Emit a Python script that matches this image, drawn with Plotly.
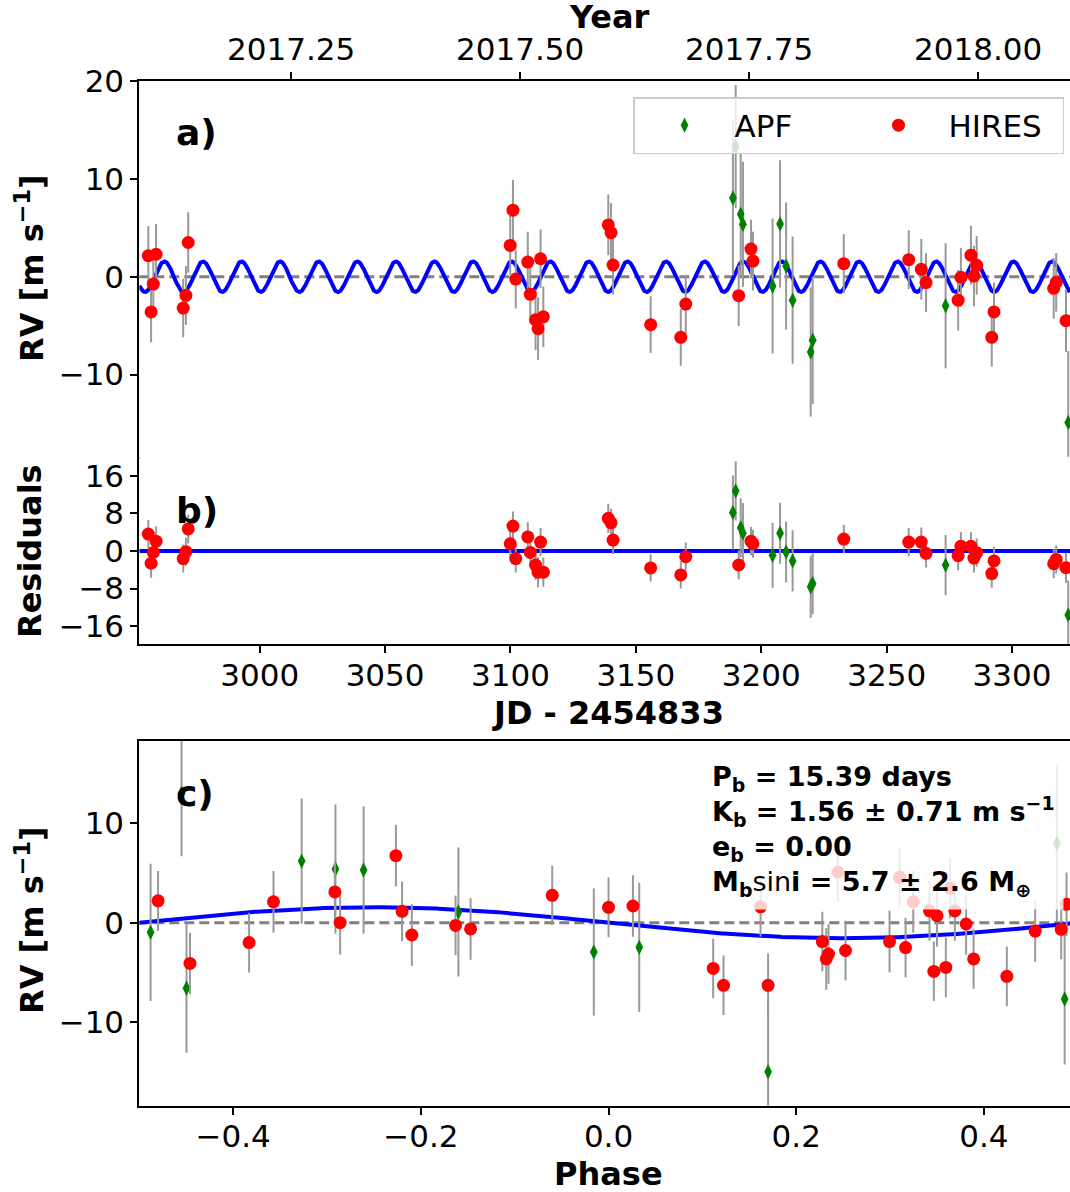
import numpy as np
import plotly.graph_objects as go

# ---------------- HIRES: time series (JD - 2454833), RV and residuals in m/s ----------------
hires_t = [2955.6, 2956.7, 2957.6, 2958.7, 2969.5, 2970.6, 2971.5,
           3099.9, 3101.0, 3102.1, 3106.9, 3107.9, 3110.0, 3111.0, 3112.0, 3113.1,
           3139.0, 3140.1, 3140.9, 3155.9, 3167.9, 3169.9,
           3191.0, 3195.9, 3196.7, 3232.9, 3258.8, 3263.8, 3265.7,
           3278.5, 3279.6, 3283.6, 3284.8, 3285.9, 3291.9, 3292.8,
           3316.6, 3317.6, 3321.5]
hires_rv = [2.15, -3.6, -0.75, 2.3, -3.2, -1.9, 3.5,
            3.2, 6.8, -0.24, 1.5, -1.8, -4.4, -5.3, 1.84, -4.1,
            5.3, 4.5, 1.2, -4.9, -6.2, -2.8,
            -1.94, 2.83, 1.6, 1.33, 1.74, 0.76, -0.6,
            -2.4, -0.06, 2.2, 0.07, 1.17, -6.2, -3.6,
            -1.19, -0.57, -4.5]
hires_err = [3.0, 3.1, 3.0, 3.1, 3.0, 3.0, 3.1,
             3.0, 3.1, 3.0, 3.1, 3.0, 3.1, 3.2, 3.0, 3.1,
             3.1, 3.0, 3.0, 2.9, 2.9, 3.0,
             3.1, 3.0, 3.0, 3.0, 3.0, 3.1, 3.0,
             3.1, 3.0, 3.0, 3.1, 3.0, 3.0, 3.0,
             3.1, 3.0, 3.2]
hires_resid = [3.6, -2.6, -0.3, 2.1, -1.6, -0.15, 4.7,
               1.55, 5.3, -1.6, 3.0, -0.3, -3.0, -4.5, 1.9, -4.5,
               6.96, 6.0, 2.34, -3.6, -5.1, -1.2,
               -2.98, 2.1, 1.55, 2.55, 1.9, 1.9, -0.5,
               -1.0, 1.0, 1.0, -1.5, -0.35, -4.8, -2.1,
               -2.7, -1.8, -3.55]

# ---------------- APF: time series ----------------
apf_t = [3188.7, 3189.8, 3191.8, 3192.7, 3204.5, 3207.5,
         3209.9, 3212.5, 3219.7, 3220.5, 3273.5, 3322.4]
apf_rv = [8.05, 13.3, 6.4, 5.36, -0.95, 5.4,
          1.1, -2.4, -7.7, -6.5, -2.97, -14.9]
apf_err = [7.9, 6.3, 6.3, 6.4, 6.9, 6.5,
           6.5, 6.5, 6.6, 6.5, 6.4, 7.3]
apf_resid = [8.2, 12.8, 4.96, 3.8, -0.9, 3.8,
             -0.2, -2.1, -7.6, -6.96, -3.0, -13.6]

# ---------------- Phase-folded RVs ----------------
hires_phase = [-0.480, -0.446, -0.383, -0.357, -0.2916, -0.286, -0.2266, -0.220,
               -0.2096, -0.163, -0.147, -0.060,
               0.000, 0.026, 0.1115, 0.1225, 0.162, 0.170, 0.2278, 0.232, 0.2344,
               0.2443, 0.2525, 0.2994, 0.310, 0.3165, 0.3247, 0.342, 0.3466, 0.350,
               0.3594, 0.364, 0.369, 0.381, 0.389, 0.4244, 0.4546, 0.4823, 0.488]
hires_rv_phase = [2.2, -4.1, -2.0, 2.1, 3.1, 0.0, 6.75, 1.15,
                  -1.24, -0.27, -0.63, 2.76,
                  1.55, 1.68, -4.6, -6.3, 1.6, -6.3, -1.9, -3.65, -3.15,
                  5.1, -2.8, -1.9, 4.57, -2.5, 2.1, 1.2, -4.9, 0.7,
                  -4.5, 3.46, 1.18, -0.13, -3.65, -5.4, -0.84, -0.67, 1.85]
hires_err_phase = [3.0, 3.1, 3.0, 3.1, 3.0, 3.2, 3.1, 3.0,
                   3.1, 3.0, 3.1, 3.0,
                   3.0, 3.1, 3.0, 3.0, 3.0, 3.2, 3.0, 3.1, 3.0,
                   3.0, 3.0, 3.1, 3.0, 3.0, 3.1, 3.0, 3.0, 3.1,
                   3.0, 3.0, 3.0, 3.1, 3.0, 3.0, 3.1, 3.0, 3.2]
apf_phase = [-0.488, -0.455, -0.4497, -0.327, -0.291, -0.261,
             -0.160, -0.0157, 0.0327, 0.170, 0.4777, 0.486]
apf_rv_phase = [-0.97, 13.0, -6.6, 6.2, 5.4, 5.3,
                1.08, -2.95, -2.48, -15.0, 8.0, -7.68]
apf_err_phase = [6.9, 6.3, 6.5, 6.3, 6.5, 6.4,
                 6.5, 6.4, 6.5, 7.3, 7.9, 6.6]

# ---------------- Keplerian fit parameters ----------------
P_b = 15.39
K_b = 1.56
K_b_err = 0.71
e_b = 0.00
msini_b = 5.7
msini_b_err = 2.6
tc_b = 3319.78
JD_OFFSET = 2454833.0

# ---------------- figure geometry (pixels) ----------------
W, H = 1070, 1192
FONT = "DejaVu Sans"
X0 = 139.3  # left edge of all plot areas


def fx(px):
    return px / W


def fy(py):
    return 1 - py / H


t_range = [2952.0, 3323.1]
phase_range = [-0.5, 0.4917]


def jd_to_year(t):
    return 2000.0 + (np.asarray(t) + JD_OFFSET - 2451545.0) / 365.25


# model curves
t_model = np.linspace(t_range[0], t_range[1], 4000)
rv_model = -K_b * np.sin(2 * np.pi * (t_model - tc_b) / P_b)
ph_model = np.linspace(-0.5, 0.5, 600)
rv_ph_model = -K_b * np.sin(2 * np.pi * ph_model)

RED = "#ff0000"
GREEN = "#008000"
ERRC = "#999999"
BLUE = "#0000ff"

fig = go.Figure()


def add_data(xa, ya, x_apf, y_apf, e_apf, x_hi, y_hi, e_hi, legend):
    fig.add_trace(go.Scatter(
        x=x_apf, y=y_apf, mode="markers", name="APF", showlegend=legend,
        xaxis=xa, yaxis=ya,
        marker=dict(symbol="diamond-tall", size=11, color=GREEN, line=dict(width=0)),
        error_y=dict(type="data", array=e_apf, visible=True, color=ERRC, thickness=2, width=0),
    ))
    fig.add_trace(go.Scatter(
        x=x_hi, y=y_hi, mode="markers", name="HIRES", showlegend=legend,
        xaxis=xa, yaxis=ya,
        marker=dict(symbol="circle", size=13, color=RED, line=dict(width=0)),
        error_y=dict(type="data", array=e_hi, visible=True, color=ERRC, thickness=2, width=0),
    ))


# panel a: model curve then data
fig.add_trace(go.Scatter(x=t_model, y=rv_model, mode="lines", showlegend=False,
                         line=dict(color=BLUE, width=4), xaxis="x", yaxis="y", hoverinfo="skip"))
add_data("x", "y", apf_t, apf_rv, apf_err, hires_t, hires_rv, hires_err, True)
# same HIRES epochs on the calendar-year axis (transparent, keeps the top axis active)
fig.add_trace(go.Scatter(x=jd_to_year(hires_t), y=hires_rv, mode="markers", showlegend=False,
                         xaxis="x4", yaxis="y", marker=dict(opacity=0), hoverinfo="skip"))

# panel b: zero residual line then residuals
fig.add_trace(go.Scatter(x=t_range, y=[0, 0], mode="lines", showlegend=False,
                         line=dict(color=BLUE, width=4), xaxis="x2", yaxis="y2", hoverinfo="skip"))
add_data("x2", "y2", apf_t, apf_resid, apf_err, hires_t, hires_resid, hires_err, False)

# panel c: phase-folded model then data
fig.add_trace(go.Scatter(x=ph_model, y=rv_ph_model, mode="lines", showlegend=False,
                         line=dict(color=BLUE, width=4), xaxis="x3", yaxis="y3", hoverinfo="skip"))
add_data("x3", "y3", apf_phase, apf_rv_phase, apf_err_phase,
         hires_phase, hires_rv_phase, hires_err_phase, False)

# dashed zero lines (below traces)
for xr, yr in (("x domain", "y"), ("x3 domain", "y3")):
    fig.add_shape(type="line", xref=xr, yref=yr, x0=0, x1=1, y0=0, y1=0, layer="below",
                  line=dict(color="#808080", width=3, dash="10px,5px"))

tickfont = dict(family=FONT, size=31, color="black")
common = dict(showline=True, linecolor="black", linewidth=2, ticks="outside", ticklen=7,
              tickwidth=2, tickcolor="black", showgrid=False, zeroline=False,
              tickfont=tickfont, automargin=False)

ya_dom = [fy(457), fy(81)]
yb_dom = [fy(644.3), fy(456.7)]
yc_dom = [fy(1105.7), fy(740.7)]

fig.update_layout(
    width=W, height=H,
    margin=dict(l=0, r=0, t=0, b=0, autoexpand=False),
    paper_bgcolor="white", plot_bgcolor="white",
    font=dict(family=FONT, color="black"),
    xaxis=dict(domain=[fx(X0), 1], anchor="y", range=t_range, showline=True, linecolor="black",
               linewidth=2, showgrid=False, zeroline=False, ticks="", showticklabels=False),
    xaxis4=dict(overlaying="x", side="top", anchor="y",
                range=[float(jd_to_year(t_range[0])), float(jd_to_year(t_range[1]))],
                tickvals=[2017.25, 2017.50, 2017.75, 2018.00],
                ticktext=["2017.25", "2017.50", "2017.75", "2018.00"], **common),
    yaxis=dict(domain=ya_dom, anchor="x", range=[-18.43, 20.01], tickvals=[-10, 0, 10, 20], **common),
    xaxis2=dict(domain=[fx(X0), 1], anchor="y2", range=t_range, ticklabelstandoff=-5,
                tickvals=[3000, 3050, 3100, 3150, 3200, 3250, 3300], **common),
    yaxis2=dict(domain=yb_dom, anchor="x2", range=[-19.86, 20.08],
                tickvals=[-16, -8, 0, 8, 16], **common),
    xaxis3=dict(domain=[fx(X0), 1], anchor="y3", range=phase_range, mirror=True,
                ticklabelstandoff=-5,
                tickvals=[-0.4, -0.2, 0.0, 0.2, 0.4],
                ticktext=["\u22120.4", "\u22120.2", "0.0", "0.2", "0.4"], **common),
    yaxis3=dict(domain=yc_dom, anchor="x3", range=[-18.42, 18.32], tickvals=[-10, 0, 10], **common),
    legend=dict(x=fx(633), y=fy(97), xanchor="left", yanchor="top", orientation="h",
                bgcolor="rgba(255,255,255,0.8)", bordercolor="#cccccc", borderwidth=1.5,
                font=dict(family=FONT, size=31, color="black"),
                itemwidth=90, entrywidth=109, traceorder="normal"),
    showlegend=True,
)

ann = []
bold_title = dict(family=FONT, size=32, color="black")
# axis titles
ann.append(dict(text="<b>Year</b>", x=fx(609), y=fy(17), xref="paper", yref="paper",
                showarrow=False, font=bold_title, xanchor="center", yanchor="middle"))
ann.append(dict(text="<b>JD - 2454833</b>", x=fx(608), y=fy(713), xref="paper", yref="paper",
                showarrow=False, font=bold_title, xanchor="center", yanchor="middle"))
ann.append(dict(text="<b>Phase</b>", x=fx(608), y=fy(1174), xref="paper", yref="paper",
                showarrow=False, font=bold_title, xanchor="center", yanchor="middle"))
rv_title = "<b>RV [m s<sup>\u22121</sup>]</b>"
for txt, yc in ((rv_title, 268), ("<b>Residuals</b>", 551), (rv_title, 920)):
    ann.append(dict(text=txt, x=fx(30), y=fy(yc), xref="paper", yref="paper", textangle=-90,
                    showarrow=False, font=bold_title, xanchor="center", yanchor="middle"))
# panel letters
for txt, yc in (("a)", 132), ("b)", 510), ("c)", 793)):
    ann.append(dict(text=f"<b>{txt}</b>", x=fx(174), y=fy(yc), xref="paper", yref="paper",
                    showarrow=False, font=dict(family=FONT, size=36, color="black"),
                    xanchor="left", yanchor="middle"))
# fit summary
summary = "<br>".join([
    f"<b>P<sub>b</sub> = {P_b:.2f} days</b>",
    f"<b>K<sub>b</sub> = {K_b:.2f} \u00b1 {K_b_err:.2f} m s<sup>\u22121</sup></b>",
    f"<b>e<sub>b</sub> = {e_b:.2f}</b>",
    f"<b>M<sub>b</sub></b>sin<b>i = {msini_b:.1f} \u00b1 {msini_b_err:.1f} M<sub>\u2295</sub></b>",
])
ann.append(dict(text=summary, x=fx(703), y=fy(752), xref="paper", yref="paper", showarrow=False,
                align="left", xanchor="left", yanchor="top", bgcolor="rgba(255,255,255,0.8)",
                borderpad=8, font=dict(family=FONT, size=27, color="black")))
fig.update_layout(annotations=ann)

fig.write_html("out.html")
